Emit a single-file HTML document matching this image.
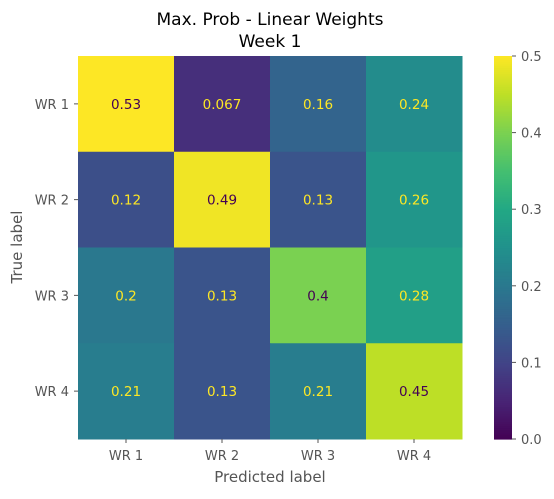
<!DOCTYPE html>
<html><head><meta charset="utf-8"><style>
body{margin:0;background:#fff;}
svg text{font-family:"DejaVu Sans","Liberation Sans",sans-serif;}
</style></head><body>
<svg id="c" width="554" height="494" xmlns="http://www.w3.org/2000/svg">
<text x="270" y="25" font-size="17" text-anchor="middle" fill="#000">Max. Prob - Linear Weights</text>
<text x="270" y="47" font-size="17" text-anchor="middle" fill="#000">Week 1</text>
<g id="cells"></g><g id="axes"></g><g id="cbar"></g>
<text x="270" y="482" font-size="15" text-anchor="middle" fill="#555">Predicted label</text>
<text transform="translate(22,247) rotate(-90)" font-size="15" text-anchor="middle" fill="#555">True label</text>
</svg>
<script>
const labels=["WR 1","WR 2","WR 3","WR 4"];
const row1=[0.53,0.067,0.16,0.24];
const row2=[0.12,0.49,0.13,0.26];
const row3=[0.2,0.13,0.4,0.28];
const row4=[0.21,0.13,0.21,0.45];
const printed=[["0.53","0.067","0.16","0.24"],["0.12","0.49","0.13","0.26"],["0.2","0.13","0.4","0.28"],["0.21","0.13","0.21","0.45"]];
const cbTicks=[0,0.1,0.2,0.3,0.4,0.5];
const rows=[row1,row2,row3,row4];
const vmin=0,vmax=0.5;
const all=rows.flat();
const thresh=(Math.max(...all)+Math.min(...all))/2;
const X0=78,Y0=56,W=384,H=383;
const stops=["#440154","#482475","#414487","#355f8d","#2a788e","#21918c","#22a884","#44bf70","#7ad151","#bddf26","#fde725"];
function hx(h){return [1,3,5].map(i=>parseInt(h.substr(i,2),16));}
function vir(t){t=Math.max(0,Math.min(1,t));const p=t*10,i=Math.min(9,Math.floor(p)),f=p-i;const a=hx(stops[i]),b=hx(stops[i+1]);return `rgb(${a.map((v,k)=>Math.round(v+(b[k]-v)*f)).join(',')})`;}
const ns="http://www.w3.org/2000/svg";
function el(t,a,p){const e=document.createElementNS(ns,t);for(const k in a)e.setAttribute(k,a[k]);p.appendChild(e);return e;}
const xs=j=>X0+j*W/4, ys=i=>Y0+i*H/4, cy=v=>Y0+H-(v-vmin)/(vmax-vmin)*H;
const cells=document.getElementById('cells');
rows.forEach((r,i)=>r.forEach((v,j)=>{
 const t=(v-vmin)/(vmax-vmin);
 const rc=el('rect',{x:xs(j),y:ys(i),width:W/4+0.5,height:H/4+0.5,fill:vir(t)},cells);
 
 
 const tx=el('text',{x:xs(j)+W/8,y:ys(i)+H/8+5,'font-size':13.5,'text-anchor':'middle',fill:v>=thresh?'#440154':'#fde725'},cells);
 tx.textContent=printed[i][j];
 
 
}));
const ax=document.getElementById('axes');
labels.forEach((l,k)=>{
 el('line',{x1:xs(k)+W/8,x2:xs(k)+W/8,y1:Y0+H,y2:Y0+H+4,stroke:'#555'},ax);
 const t=el('text',{x:xs(k)+W/8,y:Y0+H+21,'font-size':13,'text-anchor':'middle',fill:'#555'},ax);t.textContent=l;
 
 
 el('line',{x1:X0-4,x2:X0,y1:ys(k)+H/8,y2:ys(k)+H/8,stroke:'#555'},ax);
 const u=el('text',{x:X0-9,y:ys(k)+H/8+5,'font-size':13,'text-anchor':'end',fill:'#555'},ax);u.textContent=l;
 
 
});
const cb=document.getElementById('cbar');
for(let k=0;k<200;k++){el('rect',{x:494,y:Y0+H-(k+1)*H/200,width:18,height:H/200+0.6,fill:vir((k+0.5)/200)},cb);}
cbTicks.forEach(v=>{
 el('line',{x1:512,x2:516,y1:cy(v),y2:cy(v),stroke:'#555'},cb);
 const t=el('text',{x:521,y:cy(v)+5,'font-size':13,fill:'#555'},cb);t.textContent=v.toFixed(1);
 
 
});
</script>
</body></html>
